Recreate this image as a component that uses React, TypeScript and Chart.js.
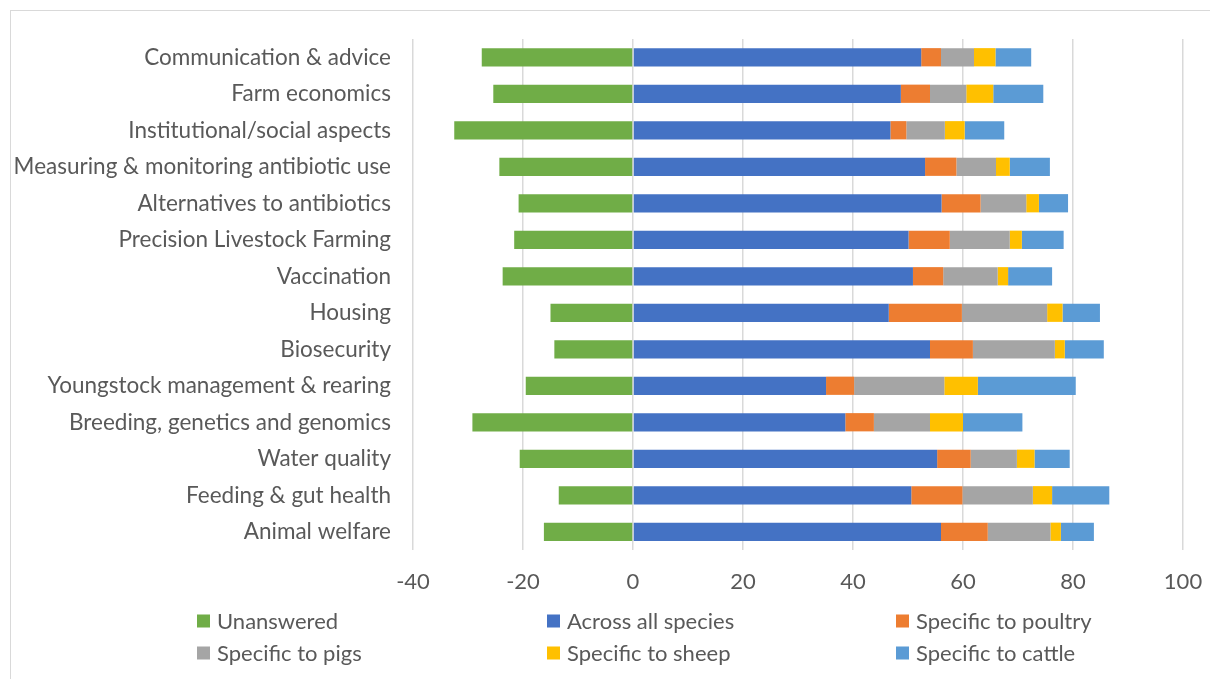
import React, { useEffect, useRef } from "react";
import { Chart, registerables } from "chart.js";

Chart.register(...registerables);

const categories = [
  "Communication & advice",
  "Farm economics",
  "Institutional/social aspects",
  "Measuring & monitoring antibiotic use",
  "Alternatives to antibiotics",
  "Precision Livestock Farming",
  "Vaccination",
  "Housing",
  "Biosecurity",
  "Youngstock management & rearing",
  "Breeding, genetics and genomics",
  "Water quality",
  "Feeding & gut health",
  "Animal welfare",
];

const unanswered = [-27.5, -25.4, -32.5, -24.3, -20.8, -21.6, -23.7, -15.0, -14.3, -19.5, -29.2, -20.6, -13.5, -16.2];
const acrossAllSpecies = [52.4, 48.7, 46.8, 53.1, 56.1, 50.1, 50.9, 46.5, 54.0, 35.1, 38.6, 55.3, 50.6, 56.0];
const poultry = [3.6, 5.3, 2.9, 5.7, 7.1, 7.5, 5.5, 13.3, 7.8, 5.1, 5.2, 6.1, 9.3, 8.5];
const pigs = [6.0, 6.6, 7.0, 7.2, 8.3, 10.9, 9.9, 15.5, 14.9, 16.4, 10.2, 8.4, 12.8, 11.4];
const sheep = [3.9, 4.9, 3.6, 2.5, 2.3, 2.2, 1.9, 2.8, 1.8, 6.1, 6.0, 3.2, 3.5, 1.9];
const cattle = [6.5, 9.1, 7.2, 7.3, 5.3, 7.6, 8.0, 6.8, 7.1, 17.8, 10.8, 6.4, 10.4, 6.0];

const xMin = -40;
const xMax = 100;
const xStep = 20;

const TEXT = "#595959";
const FONT = "Lato";
const FONT_SIZE = 22;

// Three-column legend below the axis, drawn on the canvas
const gridLegend = {
  id: "gridLegend",
  afterDraw(chart: any) {
    const ctx = chart.ctx;
    const cols = [197, 547, 896];
    const rows = [621, 653];
    ctx.save();
    chart.data.datasets.forEach((ds: any, i: number) => {
      const x = cols[i % 3];
      const y = rows[Math.floor(i / 3)];
      ctx.fillStyle = ds.backgroundColor;
      ctx.fillRect(x, y - 6.5, 13, 13);
      ctx.fillStyle = TEXT;
      ctx.font = `${FONT_SIZE}px ${FONT}`;
      ctx.textBaseline = "middle";
      ctx.textAlign = "left";
      ctx.fillText(ds.label, x + 20, y + 1);
    });
    ctx.restore();
  },
};

export default function App() {
  const canvasRef = useRef<HTMLCanvasElement | null>(null);

  useEffect(() => {
    if (!canvasRef.current) return;
    const mk = (label: string, data: number[], color: string) => ({
      label,
      data,
      backgroundColor: color,
      borderWidth: 0,
      barPercentage: 0.5,
      categoryPercentage: 1,
    });
    const chart = new Chart(canvasRef.current, {
      type: "bar",
      data: {
        labels: categories,
        datasets: [
          mk("Unanswered", unanswered, "#70AD47"),
          mk("Across all species", acrossAllSpecies, "#4472C4"),
          mk("Specific to poultry", poultry, "#ED7D31"),
          mk("Specific to pigs", pigs, "#A5A5A5"),
          mk("Specific to sheep", sheep, "#FFC000"),
          mk("Specific to cattle", cattle, "#5B9BD5"),
        ],
      },
      options: {
        indexAxis: "y",
        animation: false,
        responsive: false,
        layout: { padding: { top: 39, right: 27, left: 0, bottom: 0 } },
        plugins: {
          legend: { display: false },
          tooltip: { enabled: false },
        },
        scales: {
          x: {
            stacked: true,
            min: xMin,
            max: xMax,
            ticks: {
              stepSize: xStep,
              color: TEXT,
              font: { family: FONT, size: FONT_SIZE },
              padding: 0,
            },
            grid: {
              color: "#d9d9d9",
              lineWidth: 1.5,
              drawTicks: true,
              tickLength: 19,
              tickColor: "rgba(0,0,0,0)",
            },
            border: { display: false },
            afterFit: (s: any) => {
              s.height = 129;
            },
          },
          y: {
            stacked: true,
            ticks: {
              color: TEXT,
              font: { family: FONT, size: 22.5 },
              padding: 22,
            },
            grid: { display: false, drawTicks: false },
            border: { display: false },
            afterFit: (s: any) => {
              s.width = 413;
            },
          },
        },
      },
      plugins: [gridLegend],
    });
    return () => chart.destroy();
  }, []);

  return (
    <div style={{ position: "absolute", left: 0, top: 0, width: 1210, height: 679, background: "#fff" }}>
      <div
        style={{
          position: "absolute",
          left: 10,
          top: 10,
          right: 0,
          bottom: 0,
          borderLeft: "1.5px solid #d9d9d9",
          borderTop: "1.5px solid #d9d9d9",
        }}
      />
      <canvas ref={canvasRef} width={1210} height={679} style={{ position: "absolute", left: 0, top: 0 }} />
    </div>
  );
}
